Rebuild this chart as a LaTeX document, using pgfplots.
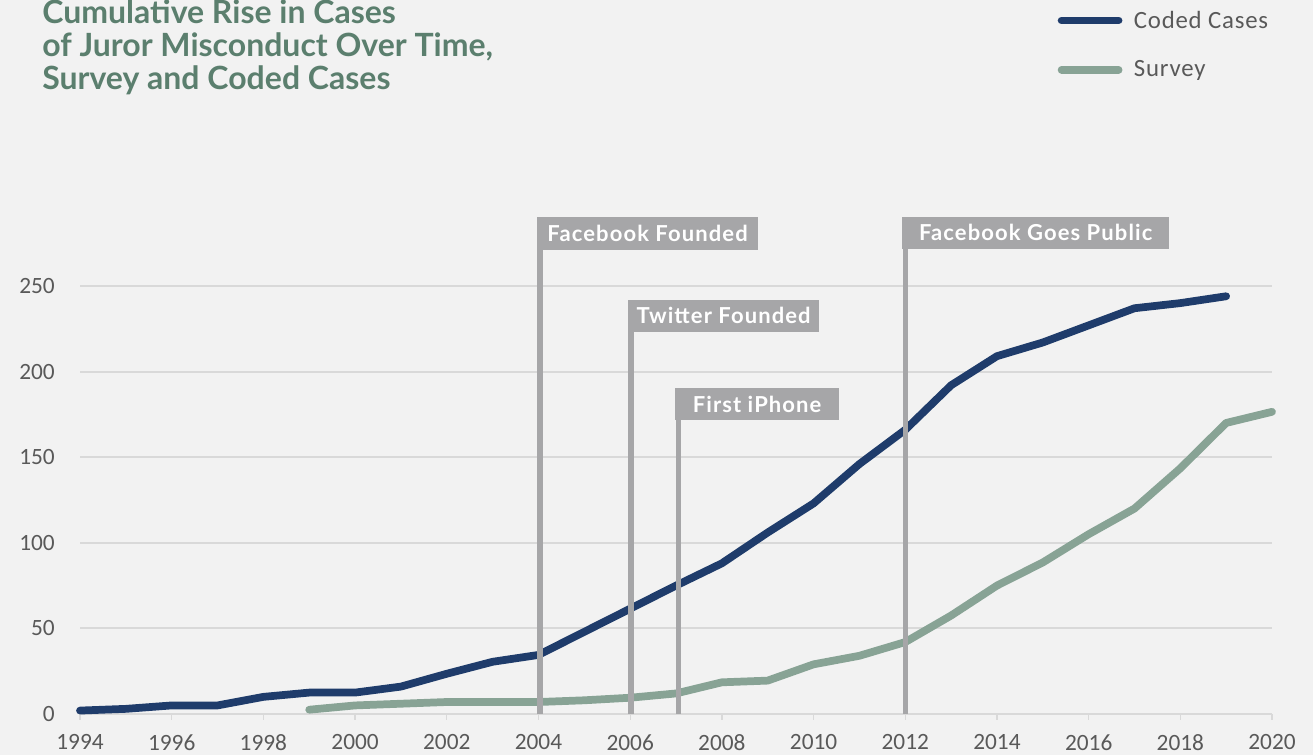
\documentclass[border=0pt]{standalone}
\usepackage{fontspec}
\setmainfont{Carlito}
\newfontfamily\latofont{Lato}
\newfontfamily\annfont[LetterSpace=5]{Lato}
\newfontfamily\legfont[LetterSpace=3.2]{Carlito}
\usepackage{pgfplots}
\pgfplotsset{compat=1.18}
\definecolor{bg}{HTML}{F2F2F2}
\definecolor{gridc}{HTML}{D9D9D9}
\definecolor{navy}{HTML}{1F3C6B}
\definecolor{sage}{HTML}{88A395}
\definecolor{anncol}{HTML}{A6A6A8}
\definecolor{titlec}{HTML}{5B7F6E}
\definecolor{ticktext}{HTML}{595959}
\pgfplotstableread{
year cases
1994 2
1995 3
1996 5
1997 5
1998 10
1999 12.5
2000 12.5
2001 16
2002 23.5
2003 30.5
2004 34.5
2005 48
2006 61.5
2007 75
2008 88
2009 106
2010 123
2011 146
2012 166
2013 192
2014 209
2015 217
2016 227
2017 237
2018 240
2019 244
}\coded
\pgfplotstableread{
year cases
1999 2.5
2000 5
2001 6
2002 7
2003 7
2004 7
2005 8
2006 9.5
2007 12
2008 18.5
2009 19.5
2010 29
2011 34
2012 42
2013 57.5
2014 75
2015 88.5
2016 105
2017 120
2018 143.5
2019 170
2020 176.5
}\survey
\begin{document}
\begin{tikzpicture}
\useasboundingbox (0,0) rectangle (984.75pt,566.25pt);
\fill[bg] (0,0) rectangle (984.75pt,566.25pt);
\node[anchor=base west, inner sep=0pt, text=titlec, font=\latofont\bfseries\fontsize{24}{26}\selectfont] at (31.5pt,548.25pt) {Cumulative Rise in Cases};
\node[anchor=base west, inner sep=0pt, text=titlec, font=\latofont\bfseries\fontsize{24}{26}\selectfont] at (31.5pt,523.7pt) {of Juror Misconduct Over Time,};
\node[anchor=base west, inner sep=0pt, text=titlec, font=\latofont\bfseries\fontsize{24}{26}\selectfont] at (31.5pt,499.3pt) {Survey and Coded Cases};
\begin{axis}[
  at={(60pt,30.75pt)}, anchor=south west,
  scale only axis, width=894pt, height=321pt,
  xmin=1994, xmax=2020, ymin=0, ymax=250,
  clip=false,
  axis lines*=left,
  x axis line style={-, draw=gridc, line width=1.5pt},
  y axis line style={draw=none},
  xtick={1994,1996,...,2020}, minor x tick num=1,
  ytick={0,50,...,250},
  ymajorgrids, grid style={gridc, line width=1.5pt},
  tick align=outside,
  major tick length=4.5pt, minor tick length=4.5pt,
  x tick style={gridc, line width=1pt},
  y tick style={draw=none},
  /pgf/number format/1000 sep={},
  /pgf/number format/assume math mode=true,
  tick label style={font=\fontsize{17.5}{20}\selectfont, text=ticktext, inner sep=0pt},
  xticklabel style={yshift=-10.6pt},
  yticklabel style={xshift=-14.25pt},
  legend style={at={(0.8200,1.5634)}, anchor=west, draw=none, fill=none,
    inner sep=0pt, row sep=23pt, column sep=8.6pt,
    font=\legfont\fontsize{18.6}{20}\selectfont, text=ticktext,
    nodes={inner sep=0pt}},
  legend cell align=left,
  legend image code/.code={\draw[#1, line cap=round] (0pt,0pt) -- (42.75pt,0pt);},
]
\addplot[navy, line width=5.8pt, line cap=round, line join=round] table[x=year,y=cases] {\coded};
\addlegendentry{Coded Cases}
\addplot[sage, line width=5.8pt, line cap=round, line join=round] table[x=year,y=cases] {\survey};
\addlegendentry{Survey}
% event markers
\addplot[anncol, line width=4pt, forget plot] coordinates {(2004.03,0) (2004.03,271.3)};
\addplot[anncol, line width=4pt, forget plot] coordinates {(2006.02,0) (2006.02,223.3)};
\addplot[anncol, line width=4pt, forget plot] coordinates {(2007.05,0) (2007.05,171.7)};
\addplot[anncol, line width=4pt, forget plot] coordinates {(2012.01,0) (2012.01,271.6)};
\fill[anncol] (axis cs:2003.975,271.3) rectangle (axis cs:2008.78,290.5);
\fill[anncol] (axis cs:2005.96,223.3) rectangle (axis cs:2010.12,241.8);
\fill[anncol] (axis cs:2006.98,171.7) rectangle (axis cs:2010.56,190.2);
\fill[anncol] (axis cs:2011.94,271.6) rectangle (axis cs:2017.75,290.5);
\node[text=white, font=\annfont\bfseries\fontsize{16.5}{18}\selectfont] at (axis cs:2006.38,280.9) {Facebook Founded};
\node[text=white, font=\annfont\bfseries\fontsize{16.5}{18}\selectfont] at (axis cs:2008.04,232.55) {Twitter Founded};
\node[text=white, font=\annfont\bfseries\fontsize{16.5}{18}\selectfont] at (axis cs:2008.77,180.95) {First iPhone};
\node[text=white, font=\annfont\bfseries\fontsize{16.5}{18}\selectfont] at (axis cs:2014.845,281.05) {Facebook Goes Public};
\end{axis}
\end{tikzpicture}
\end{document}
